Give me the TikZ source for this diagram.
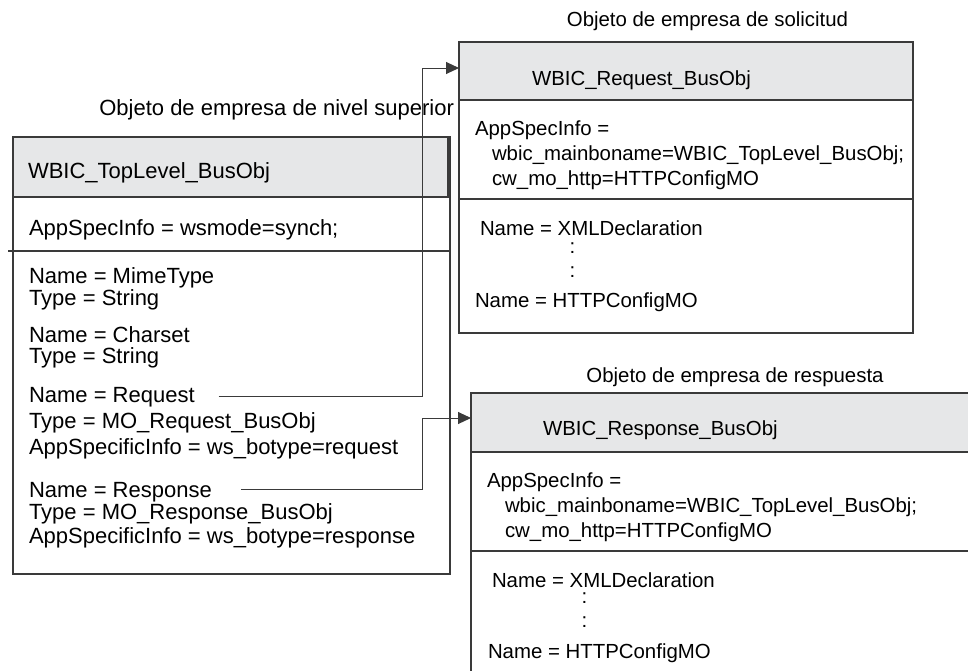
\documentclass[tikz,border=0pt]{standalone}
\usepackage{fontspec}
\setmainfont{Liberation Sans}
\usetikzlibrary{arrows.meta}
\definecolor{hdrgray}{HTML}{E6E7E8}
\definecolor{linegray}{HTML}{3A3A3A}
\begin{document}
\begin{tikzpicture}[x=1pt,y=-1pt,
  every node/.style={inner sep=0pt,outer sep=0pt},
  txt/.style={anchor=base west,font=\fontsize{22}{26}\selectfont,text=black},
  rtxt/.style={anchor=base west,font=\fontsize{20.4}{24}\selectfont,text=black},
  ttl/.style={anchor=base,font=\fontsize{22}{26}\selectfont,text=black},
  rttl/.style={anchor=base,font=\fontsize{20.4}{24}\selectfont,text=black},
  boxframe/.style={draw=linegray,line width=1.2pt,anchor=north west},
  hdr/.style={draw=linegray,line width=1.2pt,fill=hdrgray,anchor=north west},
  sep/.style={draw=linegray,line width=1.2pt},
  conn/.style={draw=linegray,line width=1pt},
  arr/.style={conn,-{Triangle[length=13pt,width=12pt]}}
]
\useasboundingbox (0,0) rectangle (968,670);
\clip (0,0) rectangle (968,670);

% ---------- top level object ----------
\node[ttl,anchor=base east] (toptitle) at (454,115) {Objeto de empresa de nivel superior};
\node[boxframe,minimum width=437pt,minimum height=437pt] (top) at (13,137) {};
\node[hdr,minimum width=435pt,minimum height=60pt] (tophead) at (13,137) {};
\draw[sep] (8,251) -- (top.east |- 0,251);
\node[txt] (topname) at (28,178) {WBIC\_TopLevel\_BusObj};
\node[txt] (topasi) at (29,235) {AppSpecInfo = wsmode=synch;};
\node[txt] (t1) at (29,283) {Name = MimeType};
\node[txt] (t2) at (29,305) {Type = String};
\node[txt] (t3) at (29,342) {Name = Charset};
\node[txt] (t4) at (29,363) {Type = String};
\node[txt] (reqname) at (29,402) {Name = Request};
\node[txt] (t6) at (29,428) {Type = MO\_Request\_BusObj};
\node[txt] (t7) at (29,454) {AppSpecificInfo = ws\_botype=request};
\node[txt] (resname) at (29,497) {Name = Response};
\node[txt] (t9) at (29,519) {Type = MO\_Response\_BusObj};
\node[txt] (t10) at (29,543) {AppSpecificInfo = ws\_botype=response};

% ---------- request object ----------
\node[rttl] (reqtitle) at (707.5,26) {Objeto de empresa de solicitud};
\node[boxframe,minimum width=454pt,minimum height=291pt] (req) at (459,42) {};
\node[hdr,minimum width=454pt,minimum height=58pt] (reqhead) at (459,42) {};
\draw[sep] (req.west |- 0,199) -- (req.east |- 0,199);
\node[rtxt] (reqhn) at (532,85) {WBIC\_Request\_BusObj};
\node[rtxt] (r1) at (475,135) {AppSpecInfo =};
\node[rtxt] (r2) at (492,160) {wbic\_mainboname=WBIC\_TopLevel\_BusObj;};
\node[rtxt] (r3) at (492,185) {cw\_mo\_http=HTTPConfigMO};
\node[rtxt] (r4) at (480,235) {Name = XMLDeclaration};
\node[rtxt] (r5) at (569.5,253) {:};
\node[rtxt] (r6) at (569.5,277) {:};
\node[rtxt] (r7) at (475,307) {Name = HTTPConfigMO};

% ---------- response object ----------
\node[rttl] (restitle) at (735,382) {Objeto de empresa de respuesta};
\node[boxframe,minimum width=540pt,minimum height=320pt] (res) at (471,393) {};
\node[hdr,minimum width=540pt,minimum height=59pt] (reshead) at (471,393) {};
\draw[sep] (res.west |- 0,551) -- (res.east |- 0,551);
\node[rtxt] (reshn) at (543,435) {WBIC\_Response\_BusObj};
\node[rtxt] (s1) at (487,487) {AppSpecInfo =};
\node[rtxt] (s2) at (505,512) {wbic\_mainboname=WBIC\_TopLevel\_BusObj;};
\node[rtxt] (s3) at (505,537) {cw\_mo\_http=HTTPConfigMO};
\node[rtxt] (s4) at (492,587) {Name = XMLDeclaration};
\node[rtxt] (s5) at (581.5,603) {:};
\node[rtxt] (s6) at (581.5,627) {:};
\node[rtxt] (s7) at (488,658) {Name = HTTPConfigMO};

% ---------- connectors ----------
\coordinate (bend) at (422,0);
\coordinate (reqstart) at ([xshift=24pt,yshift=6pt]reqname.base east);
\coordinate (resstart) at ([xshift=29pt,yshift=8pt]resname.base east);
\draw[arr] (reqstart) -- (reqstart -| bend) |- ([yshift=3pt]reqhead.west);
\draw[arr] (resstart) -- (resstart -| bend) |- ([yshift=4.5pt]reshead.west);
\end{tikzpicture}
\end{document}
